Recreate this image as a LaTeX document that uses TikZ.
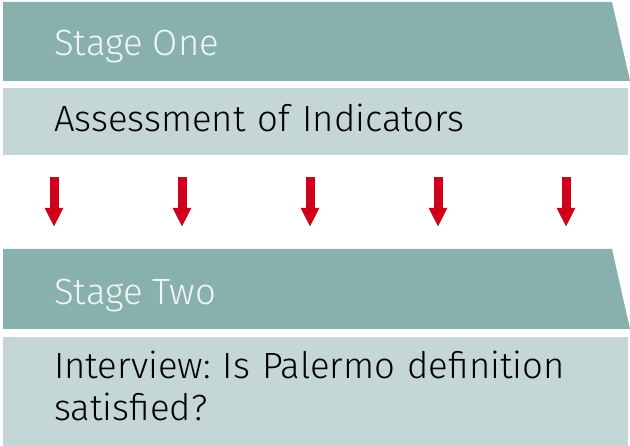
\documentclass[tikz,border=0pt]{standalone}
\usepackage{fontspec}
\setmainfont{Fira Sans Light}
\usetikzlibrary{arrows.meta}
\definecolor{darkband}{HTML}{88B0AD}
\definecolor{lightband}{HTML}{C5D6D6}
\definecolor{arrowred}{HTML}{D0021B}
\definecolor{lighttext}{HTML}{F2F6F6}
\tikzset{
  x=1pt,y=-1pt,
  stagetext/.style={anchor=base west,inner sep=0pt,text=lighttext,font=\fontsize{36.5}{41}\selectfont},
  bodytext/.style={anchor=base west,inner sep=0pt,text=black,font=\fontsize{36.5}{42}\selectfont\frenchspacing,align=left,text width=570pt},
  downarrow/.style={draw=arrowred,line width=9pt,-{Triangle[width=17pt,length=19pt]}},
}
\begin{document}
\begin{tikzpicture}
\useasboundingbox (0,0) rectangle (630,446);
% Stage one band
\fill[darkband] (3,2) -- (612,2) -- (630,81) -- (3,81) -- cycle;
\fill[lightband] (3,88) rectangle (628,155);
\node[stagetext] (s1) at (54,56) {Stage One};
\node[bodytext] (b1) at (54,132) {Assessment of Indicators};
% arrows
\foreach \i/\x in {1/54,2/182,3/310,4/438,5/566}{
  \coordinate (a\i) at (\x,177);
  \coordinate (e\i) at (\x,227);
  \draw[downarrow] (a\i) -- (e\i);
}
% Stage two band
\fill[darkband] (3,249) -- (612,249) -- (630,329) -- (3,329) -- cycle;
\fill[lightband] (3,337) rectangle (628,446);
\node[stagetext] (s2) at (54,305) {Stage Two};
\node[bodytext] (b2) at (54,379) {Interview: Is Palermo definition\\satisfied?};
\end{tikzpicture}
\end{document}
